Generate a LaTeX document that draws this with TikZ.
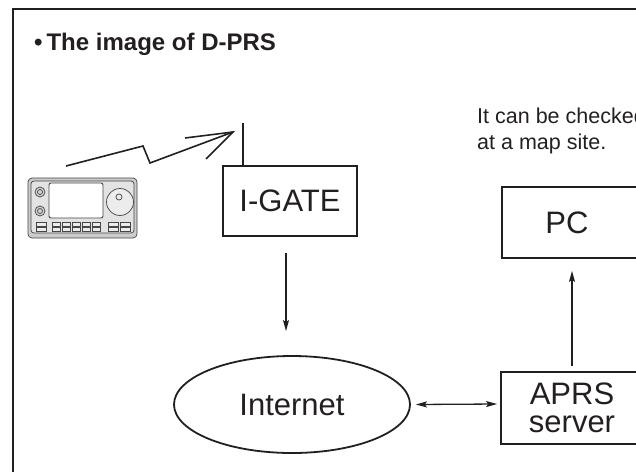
\documentclass[tikz,border=0pt]{standalone}
\usepackage{fontspec}
\setmainfont{Liberation Sans}
\usetikzlibrary{arrows.meta,calc,shapes.geometric}
\definecolor{ink}{HTML}{231F20}
\tikzset{
  unitbox/.style={draw=ink, line width=1.8pt, minimum width=134pt, minimum height=70pt,
    inner sep=0pt, font=\fontsize{31}{28}\selectfont, text=ink, align=center},
  cloudnet/.style={ellipse, draw=ink, line width=1.8pt, minimum width=236pt,
    minimum height=97pt, inner sep=0pt, font=\fontsize{31}{31}\selectfont, text=ink},
  flow/.style={draw=ink, line width=1.3pt, -{Stealth[length=11pt,width=6pt,inset=2pt]}},
  flowboth/.style={draw=ink, line width=1.3pt,
    {Stealth[length=11pt,width=6pt,inset=2pt]}-{Stealth[length=11pt,width=6pt,inset=2pt]}},
  radioline/.style={draw=gray!55!black, line width=0.7pt},
}
\begin{document}
\begin{tikzpicture}[x=1pt,y=-1pt]
\useasboundingbox (0,0) rectangle (636,471);
\clip (0,0) rectangle (636,471);

% outer frame (open to the right and below)
\draw[ink, line width=2pt] (12.5,480) -- (12.5,8.5) -- (650,8.5);

% heading
\node[anchor=base west, inner sep=0pt, text=ink, font=\fontsize{24}{24}\selectfont\bfseries]
  (title) at (34,50) {\textbullet\,The image of D-PRS};

% transceiver
\begin{scope}[radioline]
  \draw[fill=gray!40, rounded corners=4pt] (28,178) rectangle (137,238);
  \draw[fill=gray!22, rounded corners=3pt] (31,181) rectangle (134,233);
  \draw[fill=white, rounded corners=2pt, line width=0.9pt] (49,183) rectangle (103,218);
  \draw[fill=gray!35] (40,192) circle (5);
  \draw (40,192) circle (2.5);
  \draw[fill=gray!35] (40,211) circle (5);
  \draw (40,211) circle (2.5);
  \draw[fill=gray!15] (120,202) circle (13.5);
  \draw (119,197) circle (3);
  \foreach \yy in {222,227}{
    \draw[fill=gray!15] (36,\yy) rectangle (46,\yy+4);
    \foreach \i in {0,...,4}{
      \draw[fill=gray!15] (52+10*\i,\yy) rectangle (60+10*\i,\yy+4);
    }
    \draw[fill=gray!15] (108,\yy) rectangle (118,\yy+4);
    \draw[fill=gray!15] (120,\yy) rectangle (130,\yy+4);
  }
\end{scope}

% nodes
\node[unitbox] (igate) at (290,201) {I-GATE};
\node[cloudnet] (inet) at (292,404.5) {Internet};
\node[unitbox, minimum width=142pt, minimum height=72pt] (aprs) at (572,408) {APRS\\server};
\node[unitbox, minimum width=140pt, minimum height=71pt] (pc) at (572,222.5) {};
\node[inner sep=0pt, font=\fontsize{31}{31}\selectfont, text=ink] (pclabel) at (567,222.5) {PC};

% note above the PC
\node[anchor=base west, inner sep=0pt, text=ink, align=left,
  font=\fontsize{21.5}{26}\selectfont] (note) at (477,149) {It can be checked\\at a map site.};

% antenna on the I-GATE
\coordinate (ant) at (243,123);
\draw[ink, line width=1.8pt] (ant) -- (ant |- igate.north);

% radio link
\coordinate (zz0) at (66,166);
\coordinate (zz1) at (143,146);
\coordinate (zz2) at (150,163);
\coordinate (zz3) at (233,132);
\draw[ink, line width=1.6pt, line join=miter] (zz0) -- (zz1) -- (zz2) -- (zz3);
\draw[ink, line width=1.6pt, line join=miter] (185,138) -- (zz3) -- (206,159);

% connectors
\draw[flow] ($(igate.south)+(-4,16)$) -- ($(inet.north)+(-6,-24)$);
\draw[flowboth] ($(inet.east)+(5,0)$) -- ($(aprs.west)+(-3,-4)$);
\draw[flow] ($(aprs.north)+(0,-5)$) -- ($(pc.south)+(0,12)$);
\end{tikzpicture}
\end{document}
